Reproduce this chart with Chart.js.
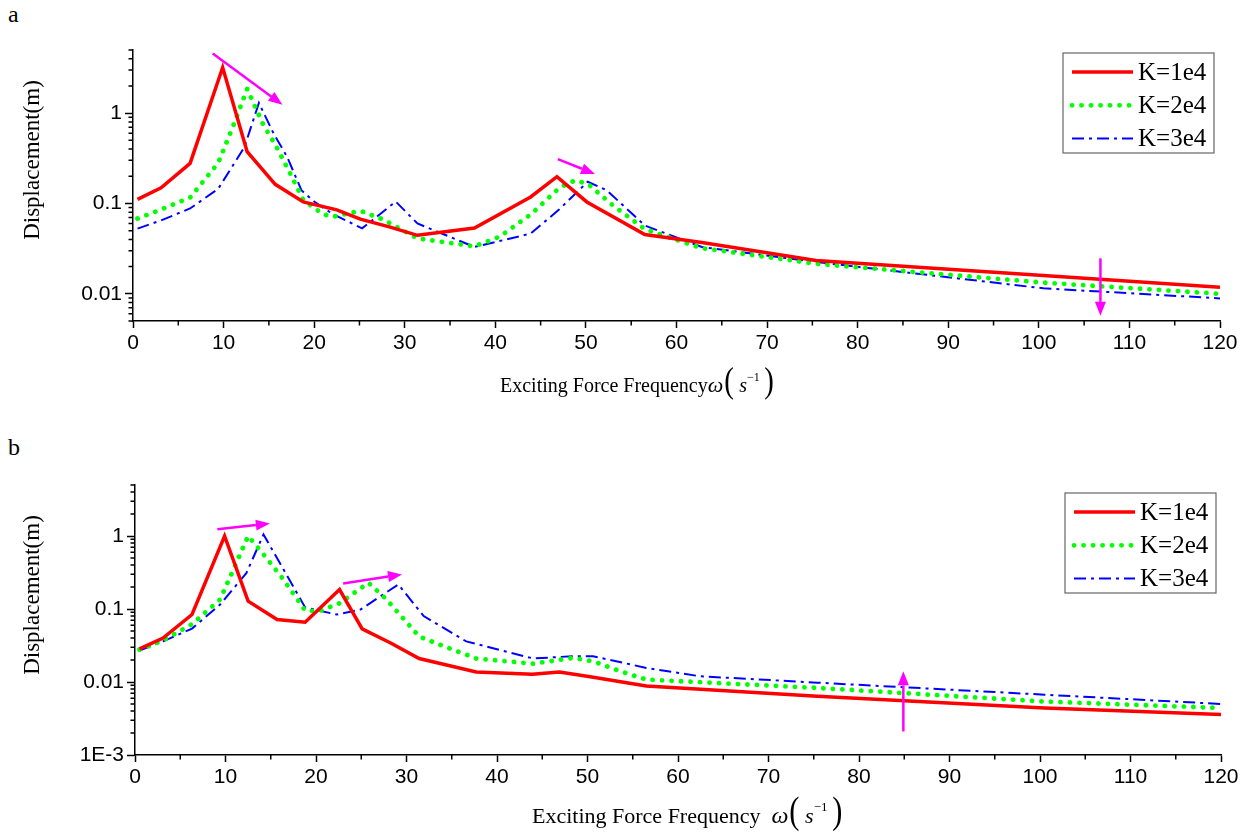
<!DOCTYPE html>
<html>
<head>
<meta charset="utf-8">
<script src="https://cdn.jsdelivr.net/npm/chart.js@4.4.1/dist/chart.umd.min.js"></script>
<style>
  html, body { margin: 0; padding: 0; background: #fff; }
  #page { position: relative; width: 1244px; height: 839px; overflow: hidden; font-family: 'Liberation Serif', 'Times New Roman', serif; color: #000; }
  canvas { position: absolute; left: 0; }
  .panel { position: absolute; left: 8px; font-size: 24px; line-height: 1; }
  .ytitle { position: absolute; white-space: nowrap; font-size: 23px; line-height: 1; transform: translate(-50%, -50%) rotate(-90deg); }
  .xtitle { position: absolute; white-space: nowrap; line-height: 1; }
  .xtitle i { font-style: italic; }
  .xtitle .par { display: inline-block; transform: scaleX(0.8); }
  .xtitle sup { vertical-align: baseline; position: relative; }
</style>
</head>
<body>
<div id="page">
  <div class="panel" style="top:2px;">a</div>
  <div class="panel" style="top:435px;">b</div>

  <canvas id="chartA" width="1244" height="400" style="top:0;"></canvas>
  <canvas id="chartB" width="1244" height="419" style="top:420px;"></canvas>

  <div class="ytitle" style="left:31px; top:160px;">Displacement(m)</div>
  <div class="ytitle" style="left:31px; top:595px;">Displacement(m)</div>

  <div class="xtitle" style="left:500px; top:362px; font-size:20px;">Exciting Force Frequency<i style="font-size:22px;">ω</i><span class="par" style="font-size:36px;">(</span><i style="margin-left:4px;">s</i><sup style="font-size:12px; top:-11px;">−1</sup><span class="par" style="font-size:36px; margin-left:3px;">)</span></div>
  <div class="xtitle" style="left:532px; top:791px; font-size:22px;">Exciting Force Frequency&nbsp;&nbsp;<i style="font-size:24px;">ω</i><span class="par" style="font-size:38px;">(</span><i style="margin-left:4px;">s</i><sup style="font-size:13px; top:-12px;">−1</sup><span class="par" style="font-size:38px; margin-left:3px;">)</span></div>
</div>

<script>
// ---- panel a ----
const freqA1 = [0.5, 3.1, 6.3, 9.9, 12.6, 15.7, 18.8, 22.5, 25.1, 28.3, 31.4, 37.7, 43.9, 46.8, 50.1, 56.5, 62.8, 75.4, 100.5, 120];
const dispA1 = [0.111, 0.149, 0.278, 3.2, 0.374, 0.163, 0.104, 0.085, 0.067, 0.055, 0.0444, 0.0536, 0.118, 0.198, 0.104, 0.0453, 0.037, 0.0234, 0.0159, 0.0118];

const freqA2 = [0.5, 3.1, 6.3, 9.4, 11.1, 12.6, 14.4, 15.7, 17.3, 18.8, 20.9, 22.0, 25.1, 27.7, 31.4, 34.6, 37.7, 40.5, 44.0, 47.1, 48.8, 50.2, 53.0, 56.5, 62.8, 75.4, 100.5, 120];
const dispA2 = [0.068, 0.086, 0.116, 0.28, 0.74, 1.85, 0.74, 0.45, 0.22, 0.109, 0.077, 0.071, 0.083, 0.066, 0.041, 0.037, 0.0335, 0.043, 0.077, 0.15, 0.18, 0.165, 0.095, 0.052, 0.032, 0.0215, 0.0133, 0.0100];

const freqA3 = [0.5, 3.1, 6.3, 9.4, 12.3, 13.9, 15.5, 17.0, 18.6, 20.0, 22.0, 25.3, 29.0, 31.4, 37.7, 43.9, 47.0, 50.2, 52.3, 56.5, 62.8, 75.4, 100.5, 120];
const dispA3 = [0.0527, 0.065, 0.088, 0.145, 0.42, 1.3, 0.6, 0.33, 0.14, 0.105, 0.077, 0.053, 0.105, 0.06, 0.033, 0.0464, 0.085, 0.174, 0.14, 0.057, 0.033, 0.0225, 0.0115, 0.0089];

// ---- panel b ----
const freqB1 = [0.5, 3.1, 6.3, 9.9, 12.5, 15.7, 18.8, 22.6, 25.1, 28.3, 31.4, 37.7, 43.9, 46.9, 50.3, 56.5, 75.4, 100.5, 120];
const dispB1 = [0.0285, 0.040, 0.084, 1.0, 0.128, 0.072, 0.066, 0.185, 0.0534, 0.034, 0.021, 0.0137, 0.0128, 0.0137, 0.0118, 0.0088, 0.0064, 0.0044, 0.0036];

const freqB2 = [0.5, 3.1, 6.3, 9.4, 11.2, 12.5, 14.2, 16.4, 18.8, 20.4, 22.6, 25.8, 27.8, 31.4, 34.1, 37.7, 44.0, 48.4, 50.6, 53.6, 56.5, 75.4, 100.5, 120];
const dispB2 = [0.0278, 0.037, 0.062, 0.135, 0.43, 1.0, 0.56, 0.254, 0.095, 0.094, 0.12, 0.229, 0.135, 0.042, 0.031, 0.021, 0.0178, 0.0214, 0.0193, 0.0141, 0.0108, 0.0083, 0.0054, 0.0044];

const freqB3 = [0.5, 3.1, 6.3, 9.4, 12.3, 14.2, 16.4, 18.8, 22.3, 24.9, 29.1, 31.9, 36.6, 44.0, 48.4, 50.6, 56.5, 62.4, 75.4, 100.5, 120];
const dispB3 = [0.027, 0.036, 0.054, 0.115, 0.31, 1.05, 0.35, 0.105, 0.084, 0.098, 0.217, 0.08, 0.036, 0.021, 0.0226, 0.0226, 0.0156, 0.012, 0.0098, 0.0067, 0.0050];

const seriesLabels = ['K=1e4', 'K=2e4', 'K=3e4'];
const xTicks = [0, 10, 20, 30, 40, 50, 60, 70, 80, 90, 100, 110, 120];
const yTicksA = [0.01, 0.1, 1];
const yTicksB = [0.001, 0.01, 0.1, 1];

// magenta arrows, in data units: [x0, y0, x1, y1]
const arrowsA = [[8.8, 4.56, 16.5, 1.24], [46.9, 0.31, 51.0, 0.212], [106.8, 0.0247, 106.8, 0.0057]];
const arrowsB = [[9.1, 1.236, 14.9, 1.48], [23.0, 0.224, 29.5, 0.298], [84.9, 0.0021, 84.9, 0.014]];

const tickFont = { family: "'Liberation Sans', Arial, sans-serif", size: 21 };

function pts(xs, ys) {
  return xs.map((x, i) => ({ x: x, y: ys[i] }));
}

function yLabel(v) {
  return v === 0.001 ? '1E-3' : String(v);
}

// short ticks between the labelled ones
const minorTicks = {
  id: 'minorTicks',
  afterDraw(chart) {
    const { ctx, chartArea } = chart;
    const xs = chart.scales.x, ys = chart.scales.y;
    ctx.save();
    ctx.strokeStyle = '#000';
    ctx.lineWidth = 1.5;
    ctx.beginPath();
    for (let v = 5; v < 120; v += 10) {
      const px = xs.getPixelForValue(v);
      ctx.moveTo(px, chartArea.bottom);
      ctx.lineTo(px, chartArea.bottom + 4.5);
    }
    for (let e = -3; e <= 0; e++) {
      for (let k = 2; k <= 9; k++) {
        const v = k * Math.pow(10, e);
        if (v < ys.min || v > ys.max) continue;
        const py = ys.getPixelForValue(v);
        ctx.moveTo(chartArea.left, py);
        ctx.lineTo(chartArea.left - 4.5, py);
      }
    }
    ctx.stroke();
    ctx.restore();
  }
};

const arrowMarks = {
  id: 'arrowMarks',
  afterDatasetsDraw(chart, args, opts) {
    const { ctx } = chart;
    const xs = chart.scales.x, ys = chart.scales.y;
    ctx.save();
    ctx.strokeStyle = '#ff00ff';
    ctx.fillStyle = '#ff00ff';
    ctx.lineWidth = 2.5;
    (opts.list || []).forEach(a => {
      const x0 = xs.getPixelForValue(a[0]), y0 = ys.getPixelForValue(a[1]);
      const x1 = xs.getPixelForValue(a[2]), y1 = ys.getPixelForValue(a[3]);
      const ang = Math.atan2(y1 - y0, x1 - x0);
      const head = 14, half = 5.5;
      const bx = x1 - head * Math.cos(ang), by = y1 - head * Math.sin(ang);
      ctx.beginPath();
      ctx.moveTo(x0, y0);
      ctx.lineTo(bx, by);
      ctx.stroke();
      ctx.beginPath();
      ctx.moveTo(x1, y1);
      ctx.lineTo(bx + half * Math.sin(ang), by - half * Math.cos(ang));
      ctx.lineTo(bx - half * Math.sin(ang), by + half * Math.cos(ang));
      ctx.closePath();
      ctx.fill();
    });
    ctx.restore();
  }
};

// boxed legend in the upper right of the plot
const boxLegend = {
  id: 'boxLegend',
  afterDraw(chart, args, opts) {
    const { ctx, chartArea } = chart;
    const w = 151, h = 100;
    const left = chartArea.right - opts.right - w;
    const top = chartArea.top + opts.top;
    ctx.save();
    ctx.fillStyle = '#fff';
    ctx.fillRect(left, top, w, h);
    ctx.strokeStyle = '#666';
    ctx.lineWidth = 1.2;
    ctx.strokeRect(left, top, w, h);
    ctx.font = "25px 'Liberation Serif', 'Times New Roman', serif";
    ctx.textBaseline = 'middle';
    chart.data.datasets.forEach((ds, i) => {
      const y = top + 19 + i * 33.3;
      ctx.beginPath();
      ctx.strokeStyle = ds.borderColor;
      ctx.lineWidth = ds.borderWidth;
      ctx.lineCap = ds.borderCapStyle || 'butt';
      ctx.setLineDash(ds.borderDash || []);
      ctx.moveTo(left + 9, y);
      ctx.lineTo(left + 70, y);
      ctx.stroke();
      ctx.setLineDash([]);
      ctx.fillStyle = '#000';
      ctx.fillText(ds.label, left + 75, y + 1);
    });
    ctx.restore();
  }
};

function makeDatasets(f1, d1, f2, d2, f3, d3) {
  return [
    { label: seriesLabels[0], data: pts(f1, d1), borderColor: '#ff0000', borderWidth: 3.5, borderCapStyle: 'butt', borderDash: [] },
    { label: seriesLabels[1], data: pts(f2, d2), borderColor: '#00ff00', borderWidth: 4.8, borderCapStyle: 'round', borderDash: [0.1, 9.4] },
    { label: seriesLabels[2], data: pts(f3, d3), borderColor: '#0000ff', borderWidth: 2, borderCapStyle: 'butt', borderDash: [12, 5, 3, 5] }
  ];
}

function renderPanel(id, datasets, yMin, yMax, yTicks, yWidth, padding, legendPos, arrows) {
  const ctx = document.getElementById(id);
  return new Chart(ctx, {
    type: 'line',
    data: { datasets: datasets },
    plugins: [minorTicks, arrowMarks, boxLegend],
    options: {
      responsive: false,
      animation: false,
      layout: { padding: padding },
      elements: { point: { radius: 0 }, line: { tension: 0, fill: false } },
      plugins: {
        legend: { display: false },
        tooltip: { enabled: false },
        boxLegend: legendPos,
        arrowMarks: { list: arrows }
      },
      scales: {
        x: {
          type: 'linear',
          min: 0,
          max: 120,
          afterBuildTicks: s => { s.ticks = xTicks.map(v => ({ value: v })); },
          afterFit: s => { s.height = 40; },
          ticks: { color: '#000', font: tickFont, padding: 3, maxRotation: 0 },
          grid: { drawOnChartArea: false, drawTicks: true, tickLength: 7, tickColor: '#000', tickWidth: 1.5 },
          border: { color: '#000', width: 1.5 }
        },
        y: {
          type: 'logarithmic',
          min: yMin,
          max: yMax,
          afterBuildTicks: s => { s.ticks = yTicks.map(v => ({ value: v })); },
          afterFit: s => { s.width = yWidth; },
          ticks: { color: '#000', font: tickFont, padding: 3, callback: v => yLabel(v) },
          grid: { drawOnChartArea: false, drawTicks: true, tickLength: 8, tickColor: '#000', tickWidth: 1.5 },
          border: { color: '#000', width: 1.5 }
        }
      }
    }
  });
}

renderPanel('chartA', makeDatasets(freqA1, dispA1, freqA2, dispA2, freqA3, dispA3),
  0.005, 5, yTicksA, 133, { top: 50, right: 24, bottom: 39, left: 0 }, { right: 6, top: 3 }, arrowsA);

renderPanel('chartB', makeDatasets(freqB1, dispB1, freqB2, dispB2, freqB3, dispB3),
  0.001, 5, yTicksB, 135, { top: 65, right: 23, bottom: 44, left: 0 }, { right: 5, top: 8 }, arrowsB);
</script>
</body>
</html>
